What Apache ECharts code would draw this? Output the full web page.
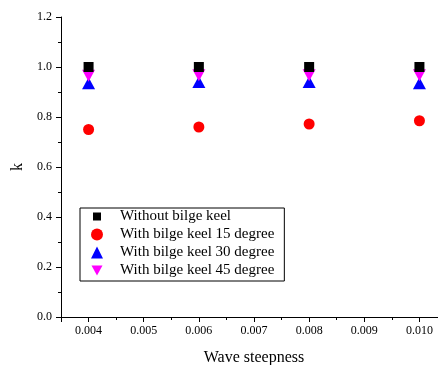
<!DOCTYPE html>
<html>
<head>
<meta charset="utf-8">
<script src="https://cdn.jsdelivr.net/npm/echarts@6/dist/echarts.min.js"></script>
<style>
  html, body { margin: 0; padding: 0; background: #fff; }
  #chart { width: 438px; height: 365px; }
</style>
</head>
<body>
<div id="chart"></div>
<script>
const waveSteepness = [0.004, 0.006, 0.008, 0.010];
const withoutKeel = [1.0, 1.0, 1.0, 1.0];
const keel15 = [0.75, 0.76, 0.772, 0.785];
const keel30 = [0.935, 0.94, 0.94, 0.935];
const keel45 = [0.965, 0.967, 0.967, 0.967];

const FONT = 'Liberation Serif';
const DOWN_TRIANGLE = 'path://M0,0 L10,0 L5,10 Z';
// legend icons padded inside a 12x12 box so they draw smaller than the item box
const LEGEND_SQUARE = 'path://M0,0 M12,12 M2,2 L10,2 L10,10 L2,10 Z';
const LEGEND_DOWN = 'path://M0,0 M12,12 M0.5,1 L11.5,1 L6,11 Z';

const pairs = (ys) => waveSteepness.map((x, i) => [x, ys[i]]);

const chart = echarts.init(document.getElementById('chart'));
chart.setOption({
  animation: false,
  backgroundColor: '#fff',
  textStyle: { fontFamily: FONT, color: '#000' },
  grid: {
    left: 61, top: 17, width: 386, height: 300,
    containLabel: false, outerBoundsMode: 'none'
  },
  xAxis: {
    type: 'value',
    min: 0.0035,
    max: 0.0105,
    splitNumber: 7,
    name: 'Wave steepness',
    nameLocation: 'middle',
    nameGap: 33,
    nameTextStyle: { fontFamily: FONT, fontSize: 16, color: '#000' },
    axisLine: { lineStyle: { color: '#000', width: 1 } },
    axisTick: { show: true, length: 5, lineStyle: { color: '#000' } },
    minorTick: { show: true, splitNumber: 2, length: 3, lineStyle: { color: '#000' } },
    splitLine: { show: false },
    axisLabel: {
      fontFamily: FONT, fontSize: 12, color: '#000', margin: 8,
      showMinLabel: false, showMaxLabel: false,
      formatter: (v) => v.toFixed(3)
    }
  },
  yAxis: {
    type: 'value',
    min: 0,
    max: 1.2,
    interval: 0.2,
    name: 'k',
    nameLocation: 'middle',
    nameGap: 29,
    nameTextStyle: { fontFamily: FONT, fontSize: 16, color: '#000' },
    axisLine: { show: true, lineStyle: { color: '#000', width: 1 } },
    axisTick: { show: true, length: 5, lineStyle: { color: '#000' } },
    minorTick: { show: true, splitNumber: 2, length: 3, lineStyle: { color: '#000' } },
    splitLine: { show: false },
    axisLabel: {
      fontFamily: FONT, fontSize: 12, color: '#000', margin: 9,
      formatter: (v) => v.toFixed(1)
    }
  },
  legend: {
    orient: 'vertical',
    left: 80,
    top: 208,
    padding: [1, 10, 3, 11],
    itemGap: 3,
    itemWidth: 12,
    itemHeight: 12,
    borderColor: '#000',
    borderWidth: 1,
    borderRadius: 0,
    textStyle: { fontFamily: FONT, fontSize: 15, color: '#000', padding: [0, 0, 0, 12] },
    data: [
      { name: 'Without bilge keel', icon: LEGEND_SQUARE, itemStyle: { opacity: 1 } },
      { name: 'With bilge keel 15 degree', icon: 'circle', itemStyle: { opacity: 1 } },
      { name: 'With bilge keel 30 degree', icon: 'triangle', itemStyle: { opacity: 1 } },
      { name: 'With bilge keel 45 degree', icon: LEGEND_DOWN, itemStyle: { opacity: 1 } }
    ]
  },
  series: [
    {
      name: 'With bilge keel 30 degree', type: 'scatter', symbol: 'triangle',
      symbolSize: [13, 12], itemStyle: { color: '#0000ff', opacity: 1 }, data: pairs(keel30), z: 2
    },
    {
      name: 'With bilge keel 45 degree', type: 'scatter', symbol: DOWN_TRIANGLE,
      symbolSize: [13, 12], itemStyle: { color: '#ff00ff', opacity: 1 }, data: pairs(keel45), z: 3
    },
    {
      name: 'Without bilge keel', type: 'scatter', symbol: 'rect',
      symbolSize: 10, itemStyle: { color: '#000000', opacity: 1 }, data: pairs(withoutKeel), z: 4
    },
    {
      name: 'With bilge keel 15 degree', type: 'scatter', symbol: 'circle',
      symbolSize: 11, itemStyle: { color: '#ff0000', opacity: 1 }, data: pairs(keel15), z: 4
    }
  ]
});
</script>
</body>
</html>
